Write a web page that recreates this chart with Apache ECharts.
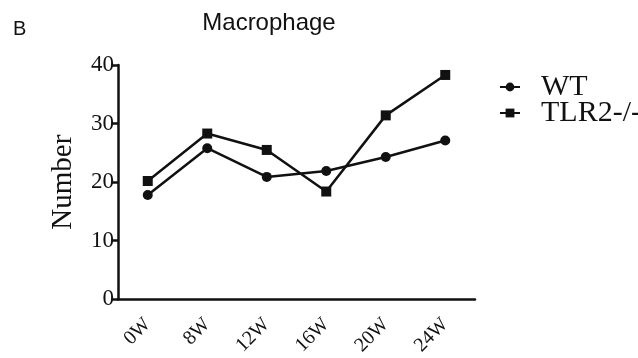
<!DOCTYPE html>
<html><head><meta charset="utf-8">
<script src="https://cdn.jsdelivr.net/npm/echarts@6/dist/echarts.min.js"></script>
<style>html,body{margin:0;padding:0;background:#fff}#c{width:638px;height:358px}</style>
</head><body><div id="c"></div>
<script>
const categories = ['0W','8W','12W','16W','20W','24W'];
const wtValues = [17.8, 25.8, 20.9, 21.9, 24.3, 27.1];
const tlrValues = [20.2, 28.3, 25.5, 18.4, 31.4, 38.3];
const yTicks = [0, 10, 20, 30, 40];

const serif = '"Liberation Serif", "Times New Roman", serif';
const sans = '"Liberation Sans", Arial, sans-serif';
const chart = echarts.init(document.getElementById('c'));
chart.setOption({
  backgroundColor: '#fff',
  animation: false,
  title: [
    {text: 'Macrophage', left: 264, top: 6, textAlign: 'center',
     textStyle: {fontFamily: sans, fontSize: 24, fontWeight: 'normal', color: '#111'}},
    {text: 'B', left: 13, top: 19, padding: 0,
     textStyle: {fontFamily: sans, fontSize: 20, fontWeight: 'normal', color: '#111'}}
  ],
  legend: {
    orient: 'vertical', left: 499, top: 72, padding: 0, itemGap: -4, itemWidth: 20, itemHeight: 11,
    textStyle: {fontFamily: serif, fontSize: 30, color: '#111', padding: [0, 0, 0, 16]},
    data: ['WT', 'TLR2-/-']
  },
  grid: {left: 118, right: 163, top: 65, bottom: 57},
  xAxis: {
    type: 'category', data: categories, boundaryGap: true,
    axisLine: {lineStyle: {color: '#111', width: 2.5}},
    axisTick: {alignWithLabel: true, length: 6, lineStyle: {color: '#111', width: 2.5}},
    axisLabel: {rotate: 45, fontFamily: serif, fontSize: 20, color: '#111', margin: 22}
  },
  yAxis: {
    type: 'value', min: yTicks[0], max: yTicks[yTicks.length-1], interval: 10,
    name: 'Number', nameLocation: 'middle', nameGap: 40,
    nameTextStyle: {fontFamily: serif, fontSize: 29, color: '#111'},
    axisLine: {show: true, lineStyle: {color: '#111', width: 2.5}},
    axisTick: {show: true, length: 6, lineStyle: {color: '#111', width: 2.5}},
    splitLine: {show: false},
    axisLabel: {fontFamily: serif, fontSize: 23, color: '#111', margin: 4}
  },
  series: [
    {name: 'WT', type: 'line', data: wtValues, symbol: 'circle', symbolSize: 10,
     lineStyle: {color: '#111', width: 2.5}, itemStyle: {color: '#111'}},
    {name: 'TLR2-/-', type: 'line', data: tlrValues, symbol: 'rect', symbolSize: 10,
     lineStyle: {color: '#111', width: 2.5}, itemStyle: {color: '#111'}}
  ]
});
</script></body></html>
